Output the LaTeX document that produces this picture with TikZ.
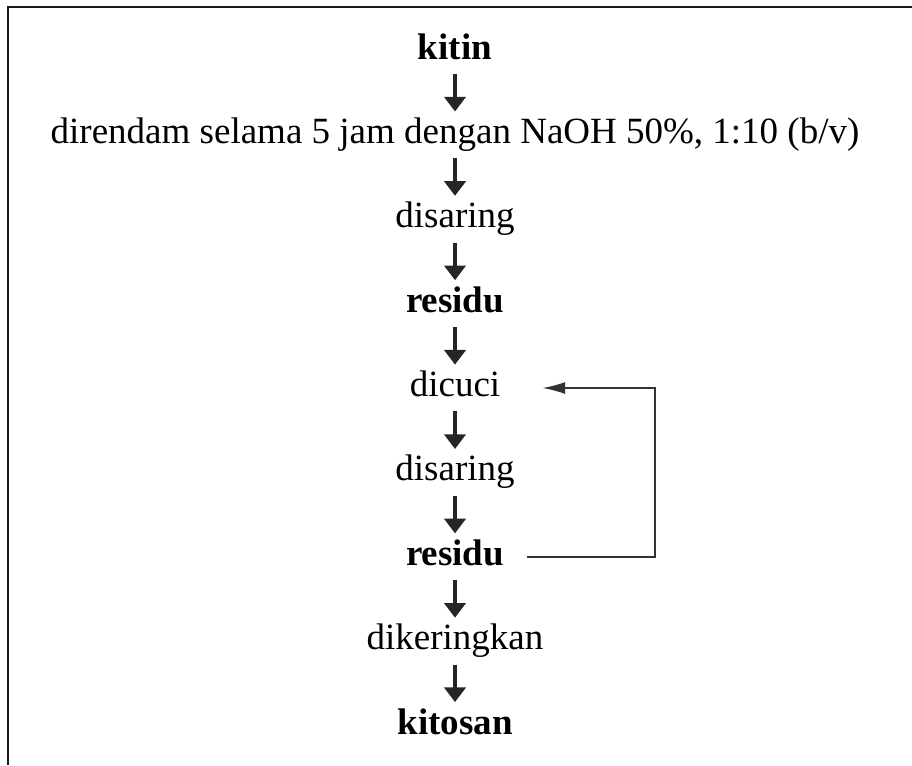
\documentclass[tikz,border=0pt]{standalone}
\usepackage{fontspec}
\setmainfont{Liberation Serif}
\usetikzlibrary{arrows.meta,calc}

\tikzset{
	proses/.style={inner sep=0pt, text height=18.75pt, text depth=6pt, font=\fontsize{27.75}{30}\selectfont},
	hasil/.style={proses, font=\fontsize{27.75}{30}\selectfont\bfseries},
	panah/.style={line width=2.4pt, color=black!85, -{Triangle[length=11pt,width=16pt]}, shorten <=5pt, shorten >=5pt},
	balik/.style={line width=1.2pt, color=black!80, -{Latex[length=17pt,width=9pt]}}
}

\begin{document}
\begin{tikzpicture}[x=0.75pt,y=-0.75pt]
			%%%%% START %%%%%
			\useasboundingbox (0, 0) rectangle (912, 765);
			
			\draw[line width=1.5pt, color=black!90] (8, 765) -- (8, 7) -- (912, 7);
			
			\node[hasil] (kitin) at (455, 50.5) {kitin};
			\node[proses] (rendam) at (455, 134.9) {direndam selama 5 jam dengan NaOH 50\%, 1:10 (b/v)};
			\node[proses] (saring1) at (455, 219.25) {disaring};
			\node[hasil] (residu1) at (455, 303.6) {residu};
			\node[proses] (cuci) at (455, 388) {dicuci};
			\node[proses] (saring2) at (455, 472.4) {disaring};
			\node[hasil] (residu2) at (455, 556.75) {residu};
			\node[proses] (kering) at (455, 641.1) {dikeringkan};
			\node[hasil] (kitosan) at (455, 725.5) {kitosan};
			
			\foreach \a/\b in {kitin/rendam, rendam/saring1, saring1/residu1, residu1/cuci,
				cuci/saring2, saring2/residu2, residu2/kering, kering/kitosan}
				\draw[panah] (\a.south -| kitin) -- (\b.north -| kitin);
			
			\draw[balik] ([xshift=17.25pt]residu2.east) -- ++(128, 0) |- ([xshift=31.5pt]cuci.east);
			
			%%%%% END %%%%%
\end{tikzpicture}
\end{document}
